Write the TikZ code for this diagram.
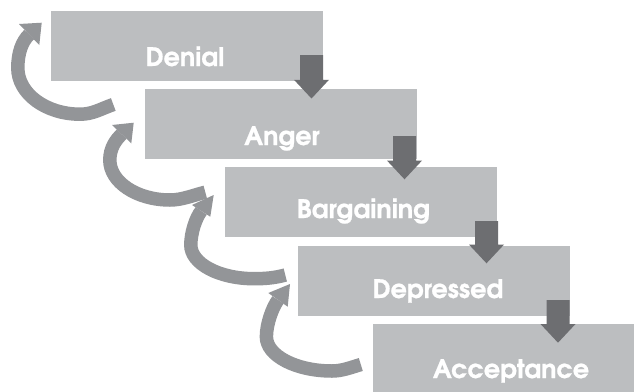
\documentclass[tikz,border=0pt]{standalone}
\usepackage{fontspec}
\setmainfont{texgyreadventor}[Extension=.otf, UprightFont=*-regular, BoldFont=*-bold, BoldFeatures={FakeBold=0.8}]
\usetikzlibrary{calc}
\definecolor{boxgray}{HTML}{BCBEC0}
\definecolor{downgray}{HTML}{6D6E71}
\definecolor{curvegray}{HTML}{939598}
\tikzset{
  stagebox/.style={fill=boxgray, draw=none, inner sep=0pt, outer sep=0pt,
    minimum width=272pt, minimum height=70pt, anchor=north west},
  stagelabel/.style={text=white, font=\bfseries\fontsize{25.5}{30}\selectfont,
    inner sep=0pt, anchor=base},
  downshape/.style={fill=downgray},
  curvebody/.style={draw=curvegray, line width=13.5pt},
  curvehead/.style={fill=curvegray},
}
% down arrow from coordinate #1 (top of shaft) to coordinate #2 (tip)
\newcommand\stagedown[2]{%
  \fill[downshape] ($(#1)+(-11.5,0)$) -- ($(#1)+(11.5,0)$)
    -- ($(#2)+(11.5,-18.7)$) -- ($(#2)+(17.5,-18.7)$) -- (#2)
    -- ($(#2)+(-17.5,-18.7)$) -- ($(#2)+(-11.5,-18.7)$) -- cycle;}
\begin{document}
\begin{tikzpicture}[x=1pt,y=-1pt]
\clip (0,0) rectangle (634,391);
\fill[white] (0,0) rectangle (634,391);

% boxes
\node[stagebox] (b1) at (51,11) {};
\node[stagebox] (b2) at (145,88.5) {};
\node[stagebox] (b3) at (225,166.5) {};
\node[stagebox] (b4) at (298,246) {};
\node[stagebox] (b5) at (373,324) {};

% labels
\node[stagelabel] (t1) at (185,66) {Denial};
\node[stagelabel] (t2) at (282,145) {Anger};
\node[stagelabel] (t3) at (363.5,218) {Bargaining};
\node[stagelabel] (t4) at (438,298) {Depressed};
\node[stagelabel] (t5) at (511,378) {Acceptance};

% down arrows
\coordinate (d1a) at (311.5,55);  \coordinate (d1b) at (311.5,98.5);
\coordinate (d2a) at (404.5,136); \coordinate (d2b) at (404.5,179.3);
\coordinate (d3a) at (486.5,221); \coordinate (d3b) at (486.5,263.3);
\coordinate (d4a) at (558,300);   \coordinate (d4b) at (558,342.7);
\stagedown{d1a}{d1b}
\stagedown{d2a}{d2b}
\stagedown{d3a}{d3b}
\stagedown{d4a}{d4b}

% curved arrows
% 1
\coordinate (c1t) at (113.3,104.5);
\coordinate (c1m) at (80,114.2);
\coordinate (c1l) at (17.8,68);
\coordinate (c1h) at (29.2,34.5);
\draw[curvebody] (c1t) .. controls (100.3,109) and (93,114.2) .. (c1m)
  .. controls (45.7,114.2) and (17.8,93.5) .. (c1l)
  .. controls (17.8,53) and (21.9,41.4) .. (c1h);
\fill[curvehead] (19,24) -- (41.7,22.7) -- (39.3,45) -- cycle;
% 2
\coordinate (c2t) at (205.3,192.2);
\coordinate (c2m) at (170,200);
\coordinate (c2l) at (109.8,160);
\coordinate (c2h) at (121.7,134.2);
\draw[curvebody] (c2t) .. controls (193.3,195.2) and (182,200) .. (c2m)
  .. controls (136.8,200) and (109.8,182.1) .. (c2l)
  .. controls (109.8,148) and (115.9,139.7) .. (c2h);
\fill[curvehead] (112,125) -- (133.7,122.7) -- (131.3,143.3) -- cycle;
% 3
\coordinate (c3t) at (285.3,275);
\coordinate (c3m) at (254,278.7);
\coordinate (c3l) at (190.8,245);
\coordinate (c3h) at (201.2,210.9);
\draw[curvebody] (c3t) .. controls (274.3,278) and (265,278.7) .. (c3m)
  .. controls (219.1,278.7) and (190.8,263.6) .. (c3l)
  .. controls (190.8,233) and (195.6,218) .. (c3h);
\fill[curvehead] (192,205) -- (213.7,195) -- (210.3,216.7) -- cycle;
% 4
\coordinate (c4t) at (360.8,364.5);
\coordinate (c4m) at (332,371);
\coordinate (c4l) at (266.4,336.7);
\coordinate (c4h) at (278,299.9);
\draw[curvebody] (c4t) .. controls (350.8,367.5) and (342,371) .. (c4m)
  .. controls (295.8,371) and (266.4,355.6) .. (c4l)
  .. controls (266.4,323.7) and (272.6,307.1) .. (c4h);
\fill[curvehead] (268.3,293) -- (290,284) -- (287.7,306.7) -- cycle;
\end{tikzpicture}
\end{document}
